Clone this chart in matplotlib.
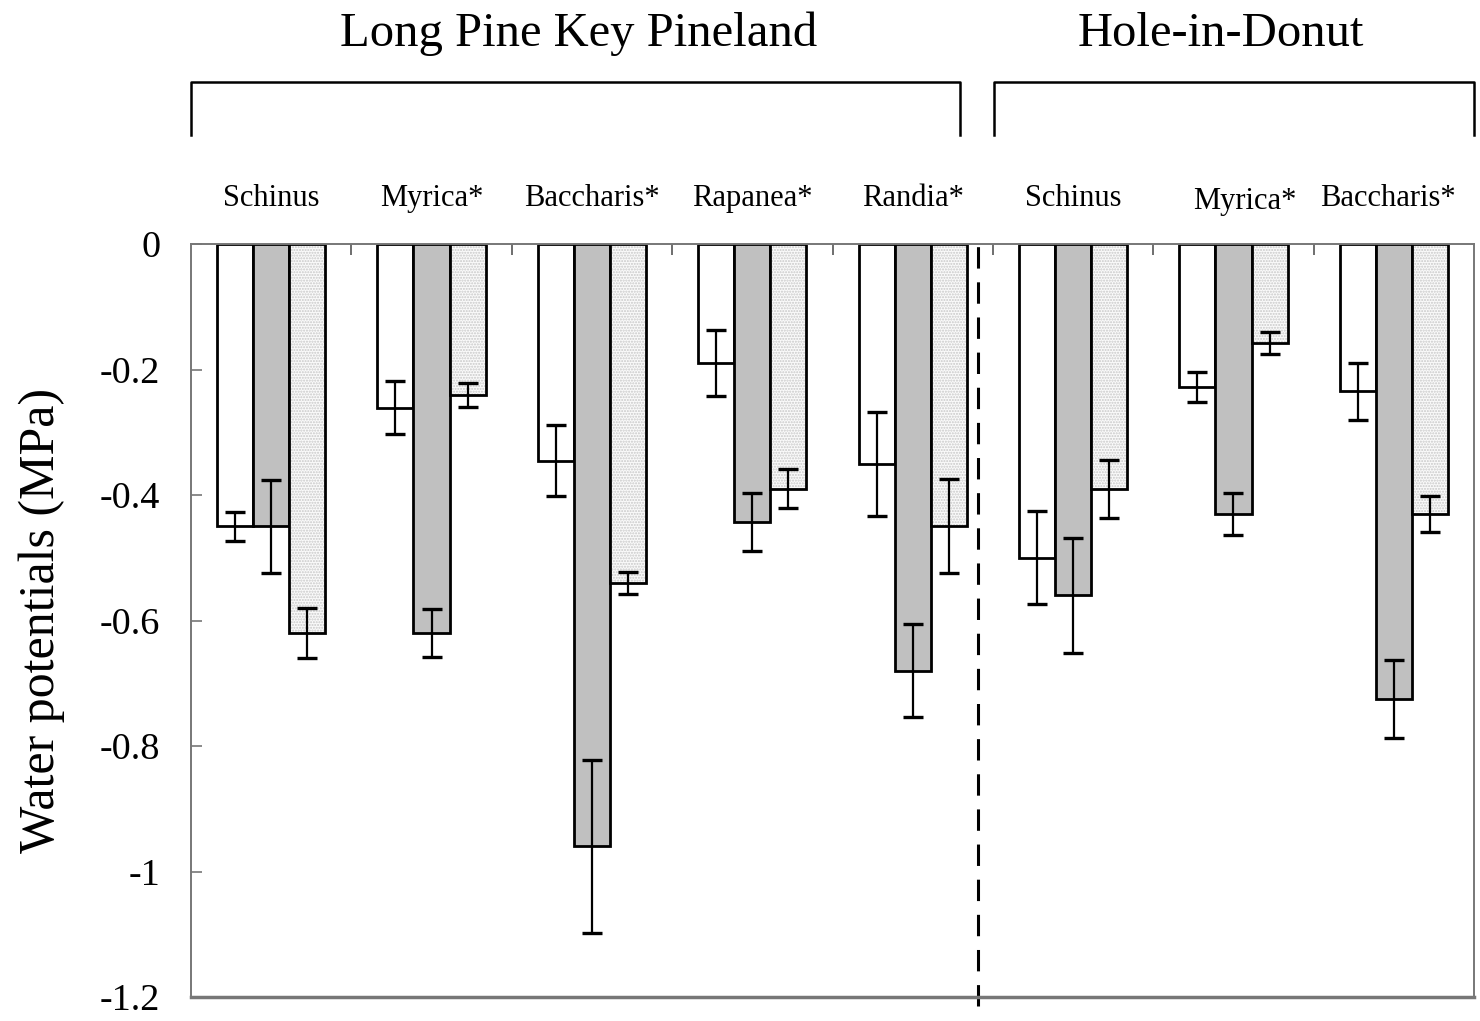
import numpy as np
import matplotlib.pyplot as plt
from matplotlib.ticker import FixedLocator

plt.rcParams['font.family'] = ['Liberation Serif', 'DejaVu Serif']

# -------- data (MPa) --------
species = ["Schinus", "Myrica*", "Baccharis*", "Rapanea*", "Randia*",
           "Schinus", "Myrica*", "Baccharis*"]
sites = ["Long Pine Key Pineland", "Hole-in-Donut"]

white_vals = [-0.45, -0.261, -0.345, -0.19, -0.35, -0.50, -0.228, -0.235]
white_err  = [0.023, 0.042, 0.057, 0.053, 0.083, 0.074, 0.024, 0.046]
grey_vals  = [-0.45, -0.62, -0.96, -0.443, -0.68, -0.56, -0.43, -0.725]
grey_err   = [0.074, 0.038, 0.138, 0.047, 0.074, 0.092, 0.034, 0.062]
dot_vals   = [-0.62, -0.241, -0.54, -0.39, -0.45, -0.39, -0.158, -0.43]
dot_err    = [0.040, 0.019, 0.018, 0.031, 0.075, 0.046, 0.018, 0.029]

yticks = [0, -0.2, -0.4, -0.6, -0.8, -1, -1.2]
ytick_labels = ["0", "-0.2", "-0.4", "-0.6", "-0.8", "-1", "-1.2"]

x = np.arange(len(species))
w = 0.225

fig = plt.figure(figsize=(14.8, 10.21), dpi=100)
ax = fig.add_axes([0.129, 0.0235, 0.867, 0.7375])

ekw = dict(ecolor="black", elinewidth=1.6, capsize=7, capthick=2.4)
ax.bar(x - w, white_vals, w, color="white", edgecolor="black", linewidth=2)
ax.errorbar(x - w, white_vals, yerr=white_err, fmt="none", **ekw)
ax.bar(x, grey_vals, w, color="#c0c0c0", edgecolor="black", linewidth=2)
ax.errorbar(x, grey_vals, yerr=grey_err, fmt="none", **ekw)
# stippled fill, then outline on top
ax.bar(x + w, dot_vals, w, color="#fafafa", edgecolor="#c8c8c8", hatch="......", linewidth=0)
ax.bar(x + w, dot_vals, w, fill=False, edgecolor="black", linewidth=2)
ax.errorbar(x + w, dot_vals, yerr=dot_err, fmt="none", **ekw)

ax.set_xlim(-0.5, 7.5)
ax.set_ylim(-1.2, 0)
ax.set_yticks(yticks)
ax.set_yticklabels(ytick_labels, fontsize=27.5)
ax.tick_params(axis="y", direction="in", length=8, width=1.2, color="#777777", pad=22)
ax.xaxis.tick_top()
ax.xaxis.set_major_locator(FixedLocator(x[:-1] + 0.5))
ax.tick_params(axis="x", direction="in", length=8, width=1.2, color="#555555", labeltop=False)
for s in ax.spines.values():
    s.set_color("#777777")
    s.set_linewidth(1.4)
ax.spines["bottom"].set_linewidth(2.5)

ax.set_ylabel("Water potentials (MPa)", fontsize=36, labelpad=25)

# site divider
ax.axvline(4.406, ymin=-0.012, ymax=1, color="black", lw=2.2,
           dashes=(7, 4.5), clip_on=False)

# species names above the plot
for i, name in enumerate(species):
    dy = 0.067 if i == 6 else 0.073
    dx = 0.07 if i == 6 else (-0.04 if i == 7 else 0)
    ax.text(x[i] + dx, dy, name, fontsize=22, ha="center", va="center")

# site brackets and titles
brackets = [(-0.5, 4.294), (4.506, 7.5)]
for (x0, x1), site in zip(brackets, sites):
    ax.plot([x0, x0, x1, x1], [0.174, 0.258, 0.258, 0.174], color="black",
            lw=1.8, clip_on=False)
ax.text(1.92, 0.335, sites[0], fontsize=35, ha="center", va="center")
ax.text(5.92, 0.335, sites[1], fontsize=35, ha="center", va="center")

fig.savefig("out.png", dpi=100)
